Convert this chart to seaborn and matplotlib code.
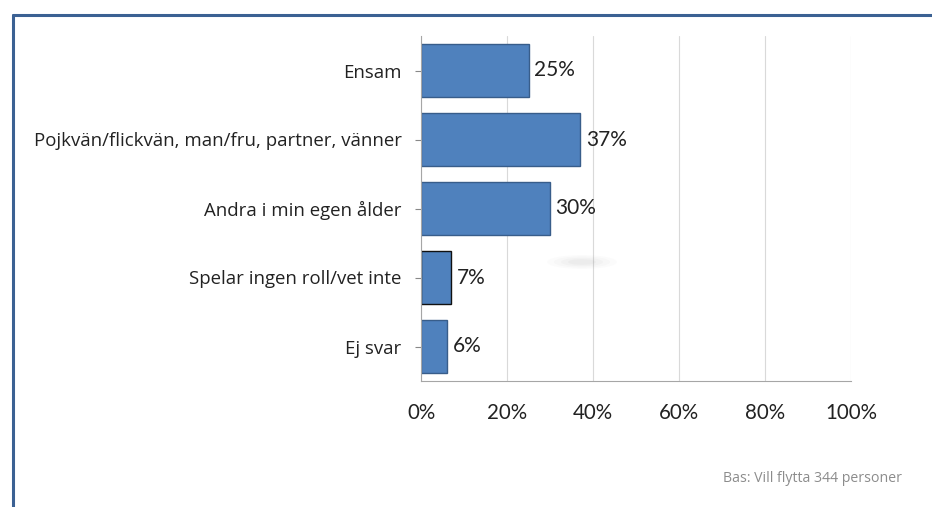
import matplotlib
matplotlib.use("Agg")
import matplotlib.pyplot as plt
from matplotlib.patches import Ellipse
from matplotlib.lines import Line2D
import seaborn as sns
import pandas as pd

categories = ["Ensam", "Pojkvän/flickvän, man/fru, partner, vänner",
              "Andra i min egen ålder", "Spelar ingen roll/vet inte", "Ej svar"]
values = [25, 37, 30, 7, 6]
tick_values = [0, 20, 40, 60, 80, 100]
tick_labels = ["0%", "20%", "40%", "60%", "80%", "100%"]
footnote = "Bas: Vill flytta 344 personer"

sns.set_theme(style="white")
plt.rcParams["font.family"] = ["Lato", "DejaVu Sans"]

df = pd.DataFrame({"kategori": categories, "andel": values})

fig = plt.figure(figsize=(9.32, 5.07), dpi=100)
ax = fig.add_axes([421 / 932, 1 - 381 / 507, 430 / 932, 345 / 507])

sns.barplot(data=df, x="andel", y="kategori", orient="h", ax=ax,
            color="#4F81BD", saturation=1, width=0.77,
            edgecolor="#385D8A", linewidth=1)
ax.patches[3].set_edgecolor("#111111")

ax.set_xlim(0, 100)
ax.set_xticks(tick_values)
ax.set_xticklabels(tick_labels, fontsize=14.8, color="#222222")
ax.tick_params(axis="x", length=5, width=0.8, color="#A6A6A6", pad=11, direction="out")
ax.tick_params(axis="y", length=4, width=0.8, color="#888888", pad=10,
               labelcolor="#222222", left=True)
for lbl in ax.get_yticklabels():
    lbl.set_fontfamily(["Open Sans", "DejaVu Sans"])
    lbl.set_fontsize(13.4)
ax.set_xlabel("")
ax.set_ylabel("")
ax.xaxis.grid(True, color="#D9D9D9", linewidth=0.8)
ax.set_axisbelow(True)
for side in ("top", "right"):
    ax.spines[side].set_visible(False)
ax.spines["left"].set_color("#A6A6A6")
ax.spines["bottom"].set_color("#A6A6A6")
ax.spines["left"].set_linewidth(0.8)
ax.spines["bottom"].set_linewidth(0.8)

for bar, v in zip(ax.patches, values):
    ax.text(bar.get_width() + 1.3, bar.get_y() + bar.get_height() / 2, f"{v}%",
            va="center", ha="left", fontsize=15, color="#222222")

# soft grey shadow blot
for i, a in enumerate([0.03, 0.04, 0.05, 0.06]):
    s = 1 - i * 0.2
    fig.add_artist(Ellipse((582 / 932, 1 - 262 / 507), 70 * s / 932, 14 * s / 507,
                           transform=fig.transFigure, color="#999999", alpha=a, lw=0))

# outer frame
fig.add_artist(Line2D([13 / 932, 1.0], [1 - 14.5 / 507, 1 - 14.5 / 507],
                      transform=fig.transFigure, color="#3B6193", lw=2.2))
fig.add_artist(Line2D([13 / 932, 13 / 932], [0, 1 - 14.5 / 507],
                      transform=fig.transFigure, color="#3B6193", lw=2.2))

fig.text(902 / 932, 1 - 479 / 507, footnote, ha="right", va="center",
         fontsize=10.2, color="#8C8C8C", family=["Open Sans", "DejaVu Sans"])

fig.savefig("out.png", dpi=100)
